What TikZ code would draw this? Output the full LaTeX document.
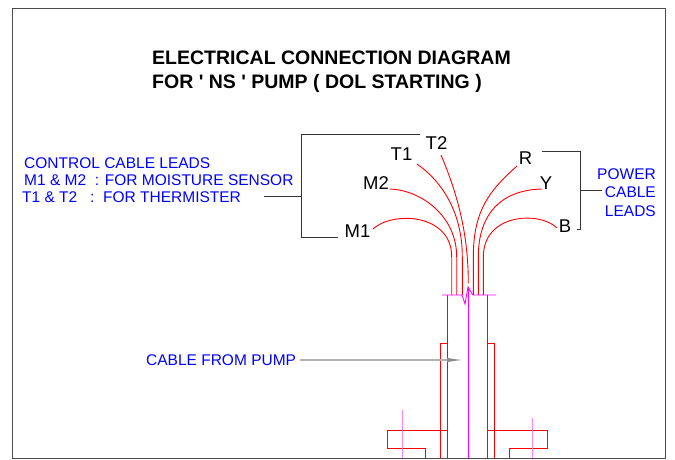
\documentclass[tikz,border=0pt]{standalone}
\usepackage{fontspec}
\setmainfont{Liberation Sans}[Ligatures=TeXOff]
\usetikzlibrary{arrows.meta}
\definecolor{axismagenta}{RGB}{255,0,255}
\definecolor{studmagenta}{RGB}{255,130,255}
\definecolor{noteblue}{RGB}{0,0,255}
\tikzset{
  titletext/.style={anchor=west, inner sep=0pt, font=\fontsize{19.5}{21}\selectfont\bfseries},
  bluetext/.style={anchor=west, inner sep=0pt, text=noteblue, font=\fontsize{15.5}{17}\selectfont},
  leadlabel/.style={inner sep=0pt, font=\fontsize{18.5}{20}\selectfont},
  leadline/.style={red, line width=.9pt},
  bodyline/.style={red, line width=1pt},
  axisline/.style={axismagenta, line width=.9pt},
  bracketline/.style={black!80, line width=.9pt}
}
\begin{document}
\begin{tikzpicture}[x=1pt, y=-1pt]
  \useasboundingbox (0,0) rectangle (675,459);
  \draw[black!70, line width=.9pt] (12,8) rectangle (665,458);

  % heading and notes
  \node[titletext] (titleone) at (152,58) {ELECTRICAL CONNECTION DIAGRAM};
  \node[titletext] (titletwo) at (152,83) {FOR ' NS ' PUMP ( DOL STARTING )};
  \node[bluetext] (notehead) at (24,163) {CONTROL CABLE LEADS};
  \node[bluetext] (notemoist) at (24,180) {M1 \& M2\ \ : FOR MOISTURE SENSOR};
  \node[bluetext] (notetherm) at (22,197) {T1 \& T2\ \ \ :\ \ FOR THERMISTER};
  \node[bluetext, anchor=east] (power) at (656,174) {POWER};
  \node[bluetext, anchor=east] (cable) at (656,192) {CABLE};
  \node[bluetext, anchor=east] (leads) at (656,211) {LEADS};
  \node[bluetext] (pumpcable) at (146,360) {CABLE FROM PUMP};

  % lead labels, one loop
  \foreach \name/\x/\y in {M1/357.5/231, M2/376/183, T1/401.5/154, T2/436.5/143, R/525.5/158, Y/546/183, B/565/226}
    \node[leadlabel] (\name) at (\x,\y) {\name};

  % leads, from the label end down to the break line
  \foreach \sx/\sy/\ax/\ay/\by/\ex in {373/229/392/211/213/451.7,
      390/189/420/190/215/456.7, 417/164/440/180/210/462.3,
      517/166/490/190/210/473.3, 542/189/500/190/215/478.3, 557/228/540/211/213/483.3}{
    \coordinate (leadstart) at (\sx,\sy);
    \coordinate (leadbend) at (\ex,257);
    \coordinate (leadend) at (\ex,295);
    \draw[leadline] (leadstart) .. controls (\ax,\ay) and (\ex,\by) .. (leadbend) -- (leadend);
  }
  \coordinate (tstart) at (441,155);
  \coordinate (tend) at (468.3,283);
  \draw[leadline] (tstart) .. controls (458,195) and (468.3,235) .. (tend);

  % brackets
  \coordinate (lefttop) at (420,134);
  \coordinate (leftlow) at (338,237);
  \coordinate (leftstem) at (264,196);
  \coordinate (righttop) at (541.7,151.7);
  \coordinate (rightlow) at (576.7,229);
  \coordinate (rightstem) at (602,190);
  \draw[bracketline] (lefttop) -- (301,134) -- (301,237) -- (leftlow);
  \draw[bracketline] (leftstem) -- (301,196);
  \draw[bracketline] (righttop) -- (580.7,151.7) -- (580.7,229) -- (rightlow);
  \draw[bracketline] (580.7,190) -- (rightstem);

  % pump body
  \draw[bodyline] (447.3,295) -- (447.3,458);
  \draw[bodyline] (487.7,295) -- (487.7,458);
  \draw[bodyline] (447.3,343) -- (440.7,343) -- (440.7,458);
  \draw[bodyline] (487.7,343) -- (494.7,343) -- (494.7,458);
  \draw[bodyline] (447.3,430.7) -- (387,430.7) -- (387,448.7) -- (425,448.7) -- (425,458);
  \draw[bodyline] (487.7,430.7) -- (547.7,430.7) -- (547.7,448.7) -- (509.7,448.7) -- (509.7,458);

  % centre line, break line and studs
  \draw[axisline] (468,287) -- (468,458);
  \draw[axisline] (442,295) -- (462,295) -- (465,304) -- (468,287) -- (473,295) -- (496,295);
  \foreach \x/\y in {402.7/410, 532/417.7}
    \draw[axisline, studmagenta] (\x,\y) -- (\x,458);

  % pointer to the cable
  \coordinate (pumpstart) at (300,360);
  \coordinate (pumptip) at (463,360);
  \draw[black!30, line width=1.2pt, -{Latex[length=16pt, width=4.5pt, black!45]}] (pumpstart) -- (pumptip);
\end{tikzpicture}
\end{document}
